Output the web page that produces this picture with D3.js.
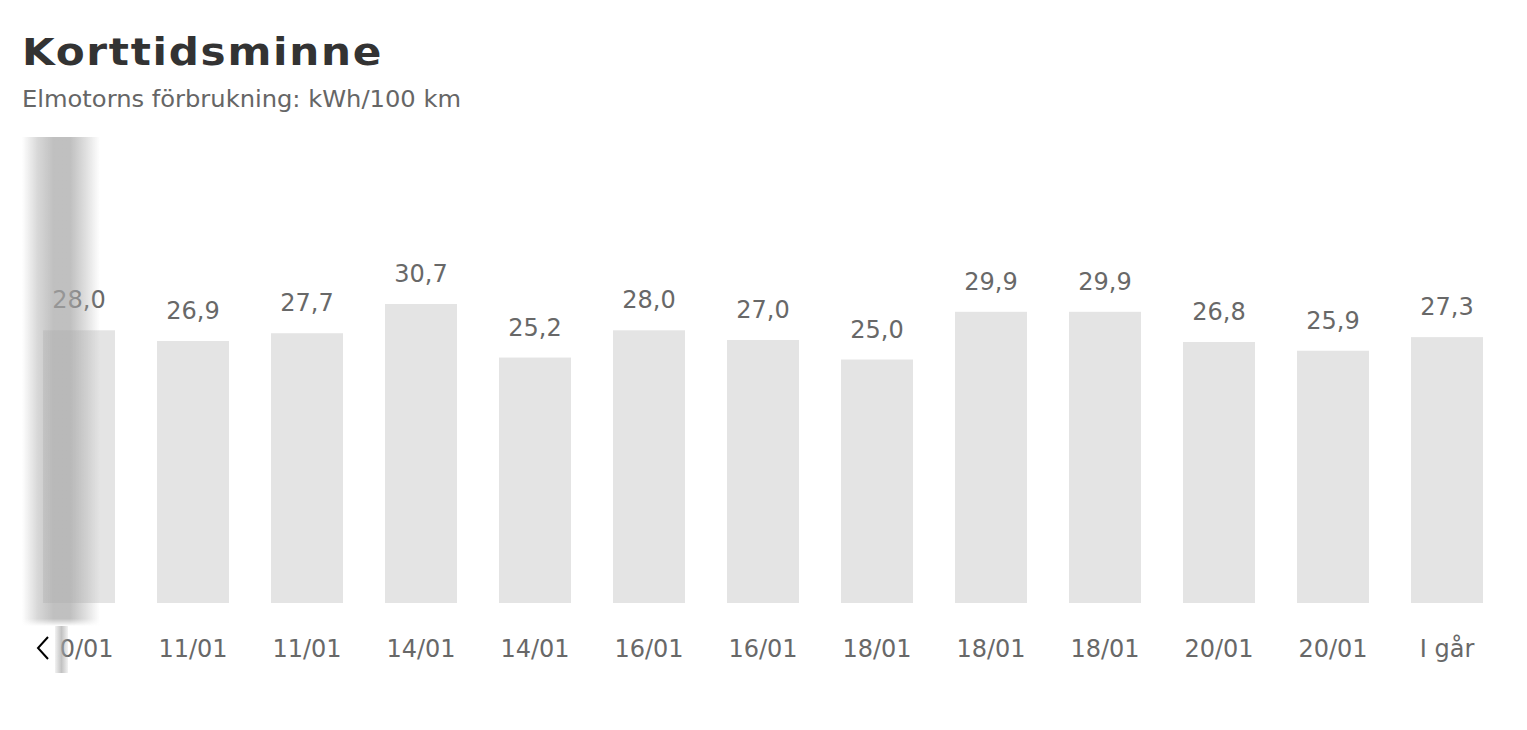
<!DOCTYPE html>
<html>
<head>
<meta charset="utf-8">
<script src="https://cdn.jsdelivr.net/npm/d3@7"></script>
<style>
  html, body { margin: 0; padding: 0; background: #fff; }
  svg { display: block; }
</style>
</head>
<body>
<svg id="chart" width="1527" height="730"></svg>
<script>
const title = "Korttidsminne";
const subtitle = "Elmotorns förbrukning: kWh/100 km";
const categories = ["10/01","11/01","11/01","14/01","14/01","16/01","16/01","18/01","18/01","18/01","20/01","20/01","I går"];
const values = [28.0, 26.9, 27.7, 30.7, 25.2, 28.0, 27.0, 25.0, 29.9, 29.9, 26.8, 25.9, 27.3];

const svg = d3.select("#chart");
const font = "'DejaVu Sans', 'Noto Sans', sans-serif";

// Title & subtitle
svg.append("text")
  .attr("x", 22).attr("y", 65)
  .attr("font-family", font).attr("font-weight", "bold")
  .attr("font-size", 37).attr("fill", "#333")
  .attr("textLength", 361).attr("lengthAdjust", "spacingAndGlyphs")
  .attr("letter-spacing", 1.5)
  .text(title);
svg.append("text")
  .attr("x", 22).attr("y", 107)
  .attr("font-family", font).attr("font-size", 23).attr("fill", "#666")
  .attr("textLength", 439).attr("lengthAdjust", "spacingAndGlyphs")
  .text(subtitle);

const idx = d3.range(categories.length);
const x = d3.scaleBand().domain(idx).range([22, 1504])
  .paddingInner(42/114).paddingOuter(21/114);
const y = d3.scaleLinear().domain([0, 30.7]).range([603, 304]);

const g = svg.append("g");
g.selectAll("rect.bar").data(idx).join("rect")
  .attr("class", "bar")
  .attr("x", i => x(i)).attr("width", x.bandwidth())
  .attr("y", i => y(values[i])).attr("height", i => y(0) - y(values[i]))
  .attr("fill", "#e4e4e4");

g.selectAll("text.val").data(idx).join("text")
  .attr("class", "val")
  .attr("x", i => x(i) + x.bandwidth()/2)
  .attr("y", i => y(values[i]) - 22)
  .attr("text-anchor", "middle")
  .attr("font-family", font).attr("font-size", 24).attr("fill", "#686868")
  .text(i => d3.format(".1f")(values[i]).replace(".", ","));

// x axis labels
const xAxis = d3.axisBottom(x).tickSize(0).tickPadding(0).tickFormat(i => categories[i]);
const ax = svg.append("g").attr("transform", "translate(0,639)").call(xAxis);
ax.select(".domain").remove();
ax.selectAll("text")
  .attr("dy", 0).attr("y", 18)
  .attr("font-family", font).attr("font-size", 24).attr("fill", "#686868");

// white box behind the chevron button
svg.append("rect").attr("x", 18).attr("y", 628).attr("width", 40).attr("height", 44).attr("fill", "#fff");

// scroll shadow
const defs = svg.append("defs");
const grad = defs.append("linearGradient").attr("id", "shadow").attr("x1", 0).attr("x2", 1).attr("y1", 0).attr("y2", 0);
[[0, 0], [0.2, 0.45], [0.4, 0.72], [0.62, 0.72], [0.8, 0.4], [1, 0]].forEach(([o, a]) =>
  grad.append("stop").attr("offset", o).attr("stop-color", "#a8a8a8").attr("stop-opacity", a));
const vfade = defs.append("linearGradient").attr("id", "vfade").attr("x1", 0).attr("x2", 0).attr("y1", 0).attr("y2", 1);
[[0, 1], [0.985, 1], [1, 0]].forEach(([o, a]) =>
  vfade.append("stop").attr("offset", o).attr("stop-color", "#fff").attr("stop-opacity", a));
defs.append("mask").attr("id", "vmask").attr("maskContentUnits", "objectBoundingBox")
  .append("rect").attr("x", 0).attr("y", 0).attr("width", 1).attr("height", 1).attr("fill", "url(#vfade)");
svg.append("rect").attr("x", 22).attr("y", 137).attr("width", 78).attr("height", 489)
  .attr("fill", "url(#shadow)").attr("mask", "url(#vmask)");

const grad2 = defs.append("linearGradient").attr("id", "stripe").attr("x1", 0).attr("x2", 1).attr("y1", 0).attr("y2", 0);
[[0, 0.15], [0.5, 0.7], [1, 0.15]].forEach(([o, a]) =>
  grad2.append("stop").attr("offset", o).attr("stop-color", "#a8a8a8").attr("stop-opacity", a));
svg.append("rect").attr("x", 55).attr("y", 626).attr("width", 13).attr("height", 47)
  .attr("fill", "url(#stripe)");

// chevron
svg.append("path").attr("d", "M48,637 L38,648 L48,659")
  .attr("fill", "none").attr("stroke", "#000").attr("stroke-width", 2);
</script>
</body>
</html>
